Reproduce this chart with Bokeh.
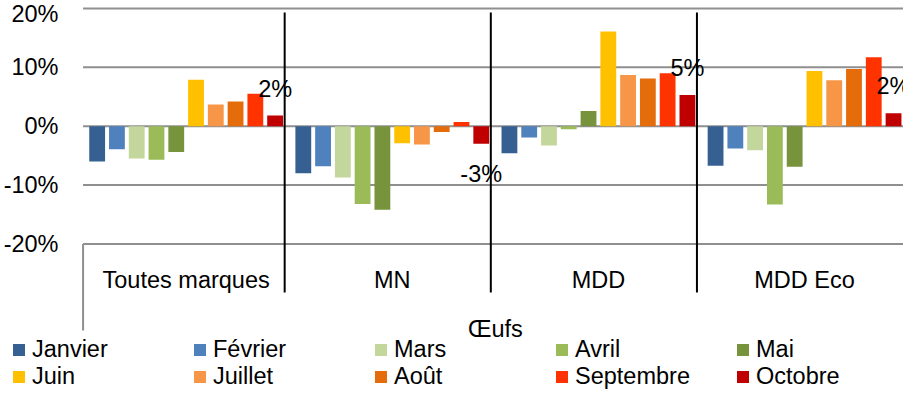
from bokeh.plotting import figure
from bokeh.models import (Range1d, FixedTicker, NumeralTickFormatter, ColumnDataSource,
                          Legend, LegendItem)
from bokeh.core.properties import value
from bokeh.embed import file_html
from bokeh.resources import INLINE

# ---------------- data ----------------
categories = ["Toutes marques", "MN", "MDD", "MDD Eco"]
group_title = "Œufs"
months = ["Janvier", "Février", "Mars", "Avril", "Mai",
          "Juin", "Juillet", "Août", "Septembre", "Octobre"]
colors = ["#376092", "#4F81BD", "#C3D69B", "#9BBB59", "#77933C",
          "#FFC000", "#F79646", "#E46C0A", "#FF3300", "#C00000"]

janvier = [-0.060, -0.080, -0.046, -0.067]
fevrier = [-0.039, -0.068, -0.019, -0.038]
mars = [-0.055, -0.087, -0.033, -0.041]
avril = [-0.057, -0.132, -0.005, -0.133]
mai = [-0.044, -0.142, 0.026, -0.069]
juin = [0.079, -0.029, 0.161, 0.094]
juillet = [0.037, -0.031, 0.087, 0.078]
aout = [0.042, -0.010, 0.081, 0.097]
septembre = [0.055, 0.007, 0.090, 0.117]
octobre = [0.018, -0.030, 0.053, 0.022]
series = [janvier, fevrier, mars, avril, mai, juin, juillet, aout, septembre, octobre]

y_ticks = [-0.2, -0.1, 0.0, 0.1, 0.2]

# ---------------- layout constants ----------------
FONT = "Liberation Sans"
FS = "23.5px"
PX = 588.5                 # pixels per unit (100%)
W, H = 903, 391
LEFT = 78                  # plot area starts 78px into the figure
X_END = 3.98
GPX = (W - LEFT) / X_END   # pixels per group
Y_END = 0.2 + 8 / PX       # 20% line 8px below the top

def dpage(page_y):
    return Y_END - (page_y - 8) / PX

def yp(ref_y):
    # reference picture y -> data value (drawing is shifted up 7px)
    return dpage(ref_y - 7)

STEP = 20 / 208.5
BW = 16 / 208.5

p = figure(width=W, height=H, output_backend="svg", toolbar_location=None,
           x_range=Range1d(-LEFT / GPX, X_END), y_range=Range1d(dpage(8 + H), Y_END),
           x_axis_location=None, min_border_left=0, min_border_right=0,
           min_border_top=0, min_border_bottom=0, outline_line_color=None)

p.xgrid.visible = False
p.ygrid.visible = False

ax = p.yaxis[0]
ax.ticker = FixedTicker(ticks=y_ticks)
ax.formatter = NumeralTickFormatter(format="0%")
ax.axis_line_color = None
ax.major_tick_line_color = None
ax.minor_tick_line_color = None
ax.major_tick_out = 0
ax.major_tick_in = 0
ax.major_label_standoff = -53
ax.major_label_text_font = FONT
ax.major_label_text_font_size = FS
ax.major_label_text_color = "#000000"

# horizontal gridlines across the plot area only
p.segment(x0=[0] * len(y_ticks), x1=[X_END] * len(y_ticks), y0=y_ticks, y1=y_ticks,
          line_color="#8f8f8f", line_width=2)

renderers = []
for j, (vals, col) in enumerate(zip(series, colors)):
    xs = [i + 0.5 + (j - 4.5) * STEP for i in range(len(categories))]
    src = ColumnDataSource(dict(x=xs, top=vals))
    r = p.vbar(x="x", top="top", bottom=0, width=BW, source=src,
               fill_color=col, line_color=None)
    renderers.append(r)

# separators between groups
sep_x = [i + 0.5 + 0.478 for i in range(len(categories) - 1)]
p.segment(x0=sep_x, x1=sep_x, y0=[yp(27)] * 3, y1=[yp(307)] * 3,
          line_color="#000000", line_width=2)
# left border of the category axis
p.segment(x0=[0.0], x1=[0.0], y0=[-0.2], y1=[yp(345)],
          line_color="#8f8f8f", line_width=2)

# category labels
p.text(x=[i + 0.5 for i in range(len(categories))], y=[yp(294)] * len(categories),
       text=categories, text_align="center", text_baseline="middle",
       text_font=value(FONT), text_font_size=FS, text_color="#000000")
p.text(x=[2.0], y=[yp(343)], text=[group_title], text_align="center",
       text_baseline="middle", text_font=value(FONT), text_font_size=FS,
       text_color="#000000")

# data labels for Octobre
lab_x = [i + 0.5 + 4.5 * STEP for i in range(len(categories))]
lab_txt = [f"{round(v * 100):d}%" for v in octobre]
lab_off = [-27 if v > 0 else 30 for v in octobre]
p.text(x="x", y="y", text="t", y_offset="o",
       source=ColumnDataSource(dict(x=lab_x, y=octobre, t=lab_txt, o=lab_off)),
       text_align="center", text_baseline="middle",
       text_font=value(FONT), text_font_size=FS, text_color="#000000")

legend = Legend(items=[LegendItem(label=m, renderers=[r]) for m, r in zip(months, renderers)],
                orientation="horizontal", ncols=5, location=(6, 1),
                glyph_width=15, glyph_height=15, label_standoff=6,
                label_width=160, spacing=0, padding=0, margin=0,
                border_line_color=None, background_fill_alpha=0,
                label_text_font=FONT, label_text_font_size=FS,
                label_text_color="#000000")
p.add_layout(legend)

open("out.html", "w").write(file_html(p, INLINE))
